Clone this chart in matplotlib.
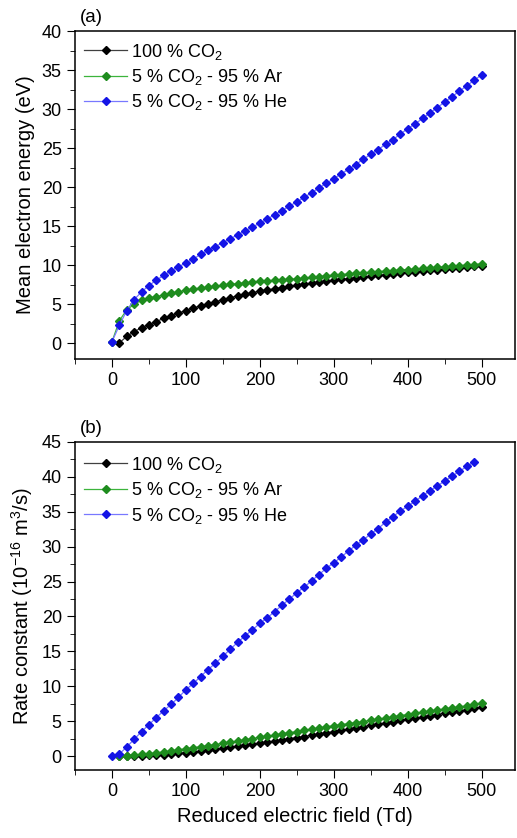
import matplotlib
matplotlib.use('Agg')
import matplotlib.pyplot as plt
from matplotlib.ticker import MultipleLocator

plt.rcParams.update({
    'font.family': ['Liberation Sans', 'DejaVu Sans'],
    'font.size': 12,
    'axes.linewidth': 1.1,
    'xtick.direction': 'out',
    'ytick.direction': 'out',
    'xtick.major.size': 6,
    'ytick.major.size': 6,
    'xtick.minor.size': 3.5,
    'ytick.minor.size': 3.5,
    'mathtext.default': 'regular',
})

LABELS = ["100 % CO$_2$", "5 % CO$_2$ - 95 % Ar", "5 % CO$_2$ - 95 % He"]
MARKER_COLORS = ["#000000", "#1e8c1e", "#1414e6"]
LINE_COLORS = ["#404040", "#3cb43c", "#7878ff"]

# === DATA ===
# reduced electric field (Td)
field_full = [0, 10, 20, 30, 40, 50, 60, 70, 80, 90, 100, 110, 120, 130, 140, 150, 160, 170,
              180, 190, 200, 210, 220, 230, 240, 250, 260, 270, 280, 290, 300, 310, 320, 330,
              340, 350, 360, 370, 380, 390, 400, 410, 420, 430, 440, 450, 460, 470, 480, 490, 500]

# (a) mean electron energy (eV)
energy_co2 = [None, 0.05, 0.9, 1.5, 2.0, 2.4, 2.8, 3.2, 3.55, 3.9, 4.2, 4.55, 4.8, 5.1, 5.35, 5.6,
              5.85, 6.1, 6.3, 6.5, 6.7, 6.85, 7.0, 7.15, 7.3, 7.45, 7.6, 7.7, 7.85, 7.95, 8.1,
              8.2, 8.3, 8.4, 8.5, 8.6, 8.7, 8.8, 8.9, 9.0, 9.1, 9.2, 9.25, 9.35, 9.45, 9.5,
              9.6, 9.7, 9.75, 9.85, 9.95]
energy_ar = [0.2, 2.9, 4.3, 5.0, 5.5, 5.8, 6.0, 6.2, 6.45, 6.6, 6.8, 6.95, 7.1, 7.2, 7.3, 7.45,
             7.55, 7.65, 7.75, 7.85, 7.95, 8.0, 8.1, 8.15, 8.2, 8.25, 8.35, 8.45, 8.55, 8.65,
             8.75, 8.8, 8.9, 8.95, 9.05, 9.1, 9.2, 9.25, 9.3, 9.4, 9.45, 9.5, 9.6, 9.65, 9.75,
             9.8, 9.9, 9.95, 10.05, 10.1, 10.2]
energy_he = [0.2, 2.3, 4.2, 5.6, 6.6, 7.4, 8.1, 8.7, 9.3, 9.8, 10.3, 10.8, 11.4, 11.9, 12.4,
             12.9, 13.4, 13.9, 14.4, 14.9, 15.4, 15.9, 16.5, 17.0, 17.6, 18.1, 18.7, 19.3, 19.9,
             20.5, 21.1, 21.7, 22.3, 22.9, 23.6, 24.2, 24.8, 25.5, 26.1, 26.8, 27.5, 28.1, 28.8,
             29.5, 30.2, 30.9, 31.6, 32.3, 33.0, 33.7, 34.4]

# (b) rate constant (1e-16 m^3/s)
rate_co2 = [None, 0.0, 0.0, 0.02, 0.05, 0.1, 0.15, 0.2, 0.3, 0.4, 0.5, 0.6, 0.7, 0.85, 0.95,
            1.1, 1.25, 1.4, 1.55, 1.7, 1.85, 2.0, 2.15, 2.3, 2.5, 2.65, 2.8, 3.0, 3.15, 3.35,
            3.5, 3.7, 3.85, 4.05, 4.2, 4.4, 4.55, 4.75, 4.9, 5.1, 5.25, 5.45, 5.6, 5.8, 5.95,
            6.15, 6.3, 6.5, 6.65, 6.85, 7.0]
rate_ar = [None, 0.0, 0.05, 0.15, 0.25, 0.35, 0.45, 0.6, 0.75, 0.9, 1.05, 1.2, 1.35, 1.5, 1.65,
           1.85, 2.0, 2.15, 2.35, 2.5, 2.7, 2.85, 3.0, 3.2, 3.35, 3.5, 3.7, 3.85, 4.0, 4.2,
           4.35, 4.5, 4.65, 4.8, 4.95, 5.15, 5.3, 5.45, 5.6, 5.8, 5.95, 6.1, 6.25, 6.4, 6.6,
           6.75, 6.9, 7.05, 7.2, 7.4, 7.55]
rate_he = [0.0, 0.3, 1.3, 2.4, 3.5, 4.5, 5.5, 6.5, 7.4, 8.4, 9.5, 10.4, 11.4, 12.4, 13.3, 14.3,
           15.3, 16.3, 17.2, 18.1, 19.0, 19.8, 20.7, 21.6, 22.5, 23.4, 24.2, 25.1, 26.0, 26.9,
           27.7, 28.5, 29.4, 30.2, 31.0, 31.8, 32.6, 33.5, 34.3, 35.1, 35.8, 36.5, 37.3, 38.0,
           38.7, 39.4, 40.1, 40.8, 41.5, 42.2, None]


def draw(ax, series, legend_y):
    for ys, lab, mc, lc in zip(series, LABELS, MARKER_COLORS, LINE_COLORS):
        xs = [x for x, y in zip(field_full, ys) if y is not None]
        yv = [y for y in ys if y is not None]
        ax.plot(xs, yv, '-', color=lc, lw=0.9, marker='D', markersize=3.6,
                markerfacecolor=mc, markeredgecolor=mc, label=lab)
    ax.set_xlim(-50, 545)
    ax.xaxis.set_major_locator(MultipleLocator(100))
    ax.xaxis.set_minor_locator(MultipleLocator(50))
    ax.yaxis.set_major_locator(MultipleLocator(5))
    ax.yaxis.set_minor_locator(MultipleLocator(2.5))
    ax.tick_params(which='both', top=False, right=False, labelsize=13)
    ax.legend(loc='upper left', bbox_to_anchor=(-0.012, legend_y), frameon=False,
              fontsize=13, handlelength=2.4, handletextpad=0.2, labelspacing=0.3,
              borderaxespad=0.4)


fig = plt.figure(figsize=(5.17, 8.38), dpi=100)

ax1 = fig.add_axes([0.145, 0.5716, 0.851, 0.3914])
draw(ax1, [energy_co2, energy_ar, energy_he], 1.012)
ax1.set_ylim(-2, 40)
ax1.set_ylabel('Mean electron energy (eV)', fontsize=14.5, labelpad=5)

ax2 = fig.add_axes([0.145, 0.0811, 0.851, 0.3915])
draw(ax2, [rate_co2, rate_ar, rate_he], 1.005)
ax2.set_ylim(-2, 45)
ax2.set_ylabel('Rate constant (10$^{-16}$ m$^3$/s)', fontsize=14.5, labelpad=5)
ax2.set_xlabel('Reduced electric field (Td)', fontsize=14.5, labelpad=5)

fig.text(0.155, 0.979, '(a)', fontsize=13.5, va='center', ha='left')
fig.text(0.155, 0.489, '(b)', fontsize=13.5, va='center', ha='left')

fig.savefig('out.png', dpi=100)
